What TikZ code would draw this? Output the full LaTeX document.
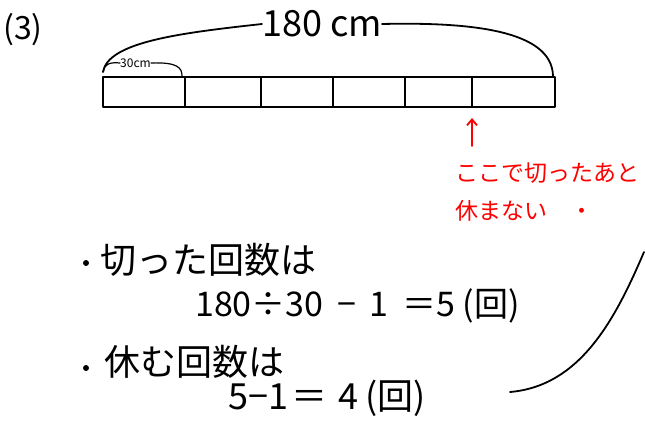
\documentclass[tikz,border=0pt]{standalone}
\usepackage{fontspec}
\newfontfamily\jp{Noto Sans CJK JP}
\usetikzlibrary{arrows.meta}
\begin{document}
\begin{tikzpicture}[x=1pt,y=-1pt,
  ink/.style={line width=1.8pt,line cap=round,line join=round},
  redink/.style={line width=1.8pt,red,line cap=round},
  lbl/.style={inner sep=0pt,anchor=west,font=\jp},
  redlbl/.style={inner sep=0pt,anchor=west,text=red,font=\jp\fontsize{23}{27}\selectfont},
  big/.style={lbl,font=\jp\fontsize{36}{40}\selectfont},
  dotstyle/.style={circle,fill=black,inner sep=0pt,minimum size=6pt}]
\useasboundingbox (0,0) rectangle (645,428);
% heading
\node[lbl,font=\jp\fontsize{32}{36}\selectfont] (num) at (3,30) {(3)};
\node[lbl,font=\jp\fontsize{36}{40}\selectfont] (total) at (262,24) {180 cm};
\node[lbl,font=\jp\fontsize{12}{14}\selectfont] (part) at (120,63) {30cm};
% tape
\coordinate (bl) at (103,77);
\coordinate (tr) at (555,107);
\draw[ink] (bl) rectangle (tr);
\foreach \x in {185,261,333,405,472}{
  \draw[ink] (\x,77) -- (\x,107);
}
\coordinate (cut) at (472,118);
% braces
\draw[ink] (103,72) .. controls (108,42) and (180,33) .. (total.west);
\draw[ink] (total.east) .. controls (470,22) and (552,30) .. (553,76);
\draw[ink,line width=1.2pt] (103,72) .. controls (104,64) and (110,62) .. (part.west);
\draw[ink,line width=1.2pt] (part.east) .. controls (178,62) and (182,68) .. (182,76);
% red note
\node[redlbl] (note1) at (455,173) {ここで切ったあと};
\node[redlbl] (note2) at (455,211) {休まない\hspace{1em}・};
\coordinate (arrowfoot) at (472,146);
\draw[redink,-{Straight Barb[length=6pt,width=10pt]}] (arrowfoot) -- (cut);
% bullets
\node[dotstyle] (dot1) at (86,263) {};
\node[big] (b1) at (100,260) {切った回数は};
\node[lbl,font=\jp\fontsize{34}{38}\selectfont] (f1) at (195,306) {180÷30\hspace{0.4em}−\hspace{0.4em}1\hspace{0.4em}＝5 (回)};
\node[dotstyle] (dot2) at (86,368) {};
\node[big] (b2) at (104,362) {休む回数は};
\node[lbl,font=\jp\fontsize{36}{40}\selectfont] (f2) at (228,398) {5−1\hspace{0.1em}＝\hspace{0.3em}4\hspace{0.2em}(回)};
% stray curve
\coordinate (s1) at (510,392);
\coordinate (s2) at (644,252);
\draw[ink] (s1) .. controls (580,386) and (615,320) .. (s2);
\end{tikzpicture}
\end{document}
